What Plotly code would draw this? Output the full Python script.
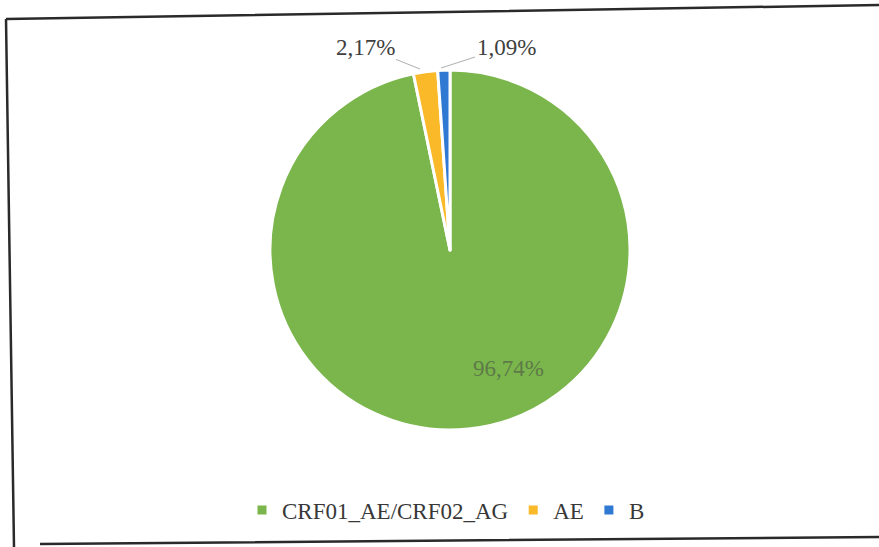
import plotly.graph_objects as go

# data
categories = ["CRF01_AE/CRF02_AG", "AE", "B"]
percentages = [96.74, 2.17, 1.09]
colors = ["#7ab64b", "#f9b928", "#2f79d3"]

W, H = 879, 547


def px(x):
    return x / W


def py(y):
    return 1 - y / H


def fmt(v):
    return f"{v:.2f}%".replace(".", ",")


fig = go.Figure()
fig.add_trace(go.Pie(
    labels=categories,
    values=percentages,
    sort=False,
    direction="clockwise",
    rotation=0,
    textinfo="none",
    hoverinfo="label+percent",
    marker=dict(colors=colors, line=dict(color="white", width=3)),
    domain=dict(x=[px(270), px(630)], y=[py(430), py(70)]),
    showlegend=True,
))

label_font = dict(family="Liberation Serif, Times New Roman, serif", size=23, color="#404040")

# labels for small slices with leader lines
fig.add_annotation(
    x=px(420), y=py(69), xref="paper", yref="paper",
    ax=-55, ay=-22,
    text=fmt(percentages[1]), showarrow=True, arrowhead=0, arrowwidth=1,
    arrowcolor="#b0b0b0", font=label_font, standoff=0,
)
fig.add_annotation(
    x=px(441), y=py(68), xref="paper", yref="paper",
    ax=65, ay=-21,
    text=fmt(percentages[2]), showarrow=True, arrowhead=0, arrowwidth=1,
    arrowcolor="#b0b0b0", font=label_font, standoff=0,
)
# big slice label inside
fig.add_annotation(
    x=px(508), y=py(383), xref="paper", yref="paper",
    text=fmt(percentages[0]), showarrow=False,
    font=dict(family="Liberation Serif, Times New Roman, serif", size=23, color="#5d7a48"),
)

# scanned frame
frame = (f"M {px(6)},{py(19)} L {px(879)},{py(5)} "
         f"M {px(6)},{py(19)} L {px(14)},{py(547)} "
         f"M {px(40)},{py(544)} L {px(879)},{py(537)}")
fig.add_shape(type="path", path=frame, xref="paper", yref="paper",
              line=dict(color="#2a2a2a", width=2.5))

fig.update_layout(
    width=W, height=H,
    margin=dict(l=0, r=0, t=0, b=0),
    paper_bgcolor="white",
    plot_bgcolor="white",
    legend=dict(
        orientation="h",
        x=px(446), xanchor="center",
        y=py(510), yanchor="middle",
        font=dict(family="Liberation Serif, Times New Roman, serif", size=23, color="#383838"),
        itemwidth=30,
        traceorder="normal",
    ),
)

fig.write_html("out.html")
